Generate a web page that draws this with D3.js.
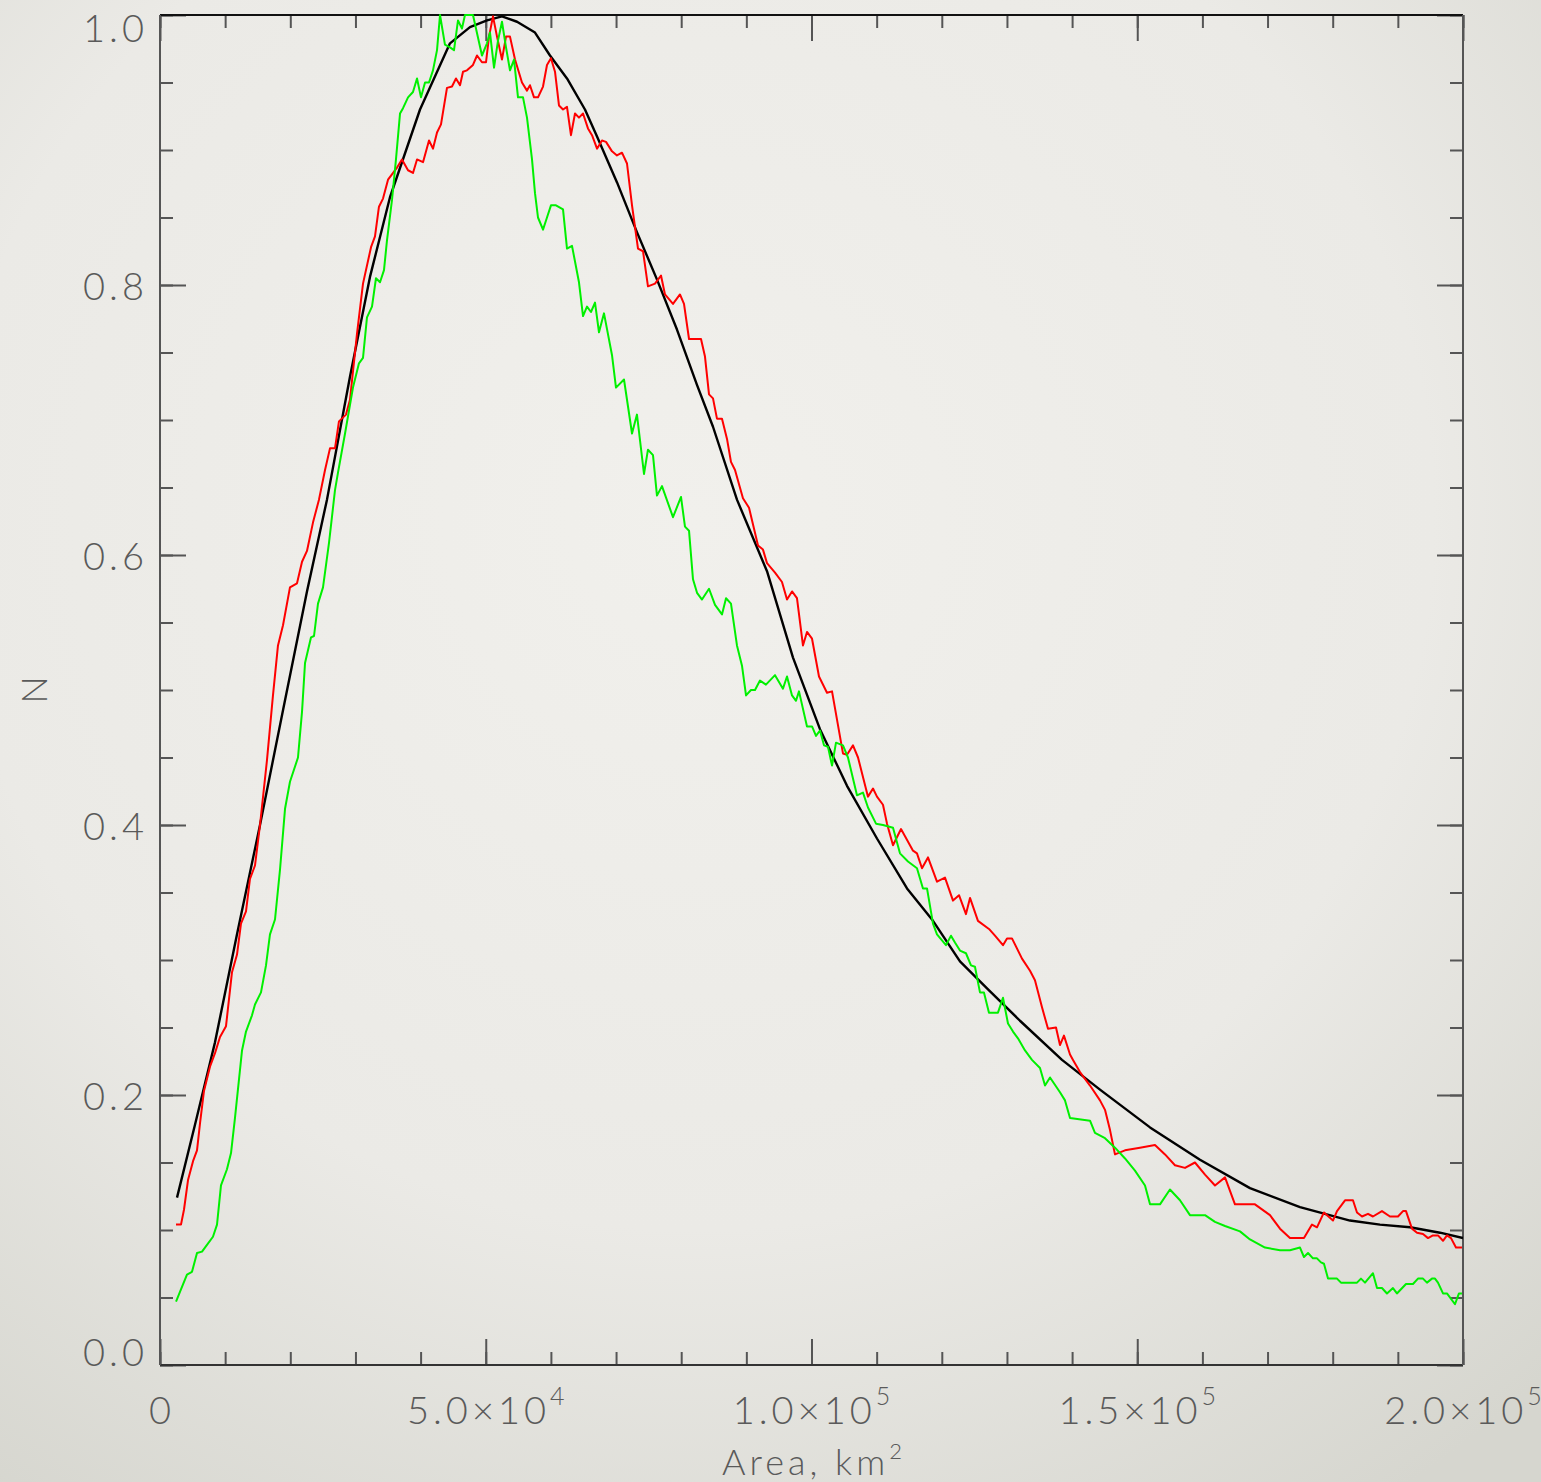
<!DOCTYPE html>
<html>
<head>
<meta charset="utf-8">
<title>Area distribution</title>
<script src="https://cdn.jsdelivr.net/npm/d3@7/dist/d3.min.js"></script>
<style>
    body {
        margin: 0;
        background: #e8e7e2;
    }

    svg text {
        font-family: 'Lato', 'DejaVu Sans', sans-serif;
        font-weight: 300;
        fill: #5a5a5a;
    }
</style>
</head>
<body>
<div id="chart"></div>
<script>
    // area in 10^3 km^2, N normalised
    const fitArea = [2.61, 5.37, 8.44, 11.82, 15.35, 18.88, 22.56, 25.63, 29.16, 32.23, 35.30, 39.91, 44.51, 47.58, 50.19, 52.49, 54.80, 57.56, 59.86, 62.47, 65.23, 67.08, 70.15, 73.22, 76.29, 79.35, 82.42, 84.88, 88.56, 93.17, 97.16, 101.30, 105.45, 110.05, 114.66, 118.65, 122.79, 126.94, 132.00, 138.45, 144.28, 151.96, 159.63, 167.30, 174.98, 182.65, 187.26, 191.86, 196.47, 200.0];
    const fitN = [0.124, 0.178, 0.239, 0.319, 0.400, 0.485, 0.573, 0.641, 0.732, 0.806, 0.865, 0.930, 0.979, 0.991, 0.996, 0.999, 0.995, 0.987, 0.970, 0.953, 0.930, 0.910, 0.876, 0.839, 0.804, 0.767, 0.726, 0.695, 0.641, 0.588, 0.524, 0.471, 0.429, 0.390, 0.353, 0.329, 0.299, 0.279, 0.255, 0.226, 0.204, 0.176, 0.152, 0.131, 0.117, 0.107, 0.104, 0.102, 0.098, 0.094];

    const redArea = [2.46, 3.22, 3.68, 4.30, 5.07, 5.68, 6.14, 6.75, 7.67, 8.44, 9.21, 10.13, 11.05, 11.82, 12.43, 13.20, 13.81, 14.58, 15.35, 16.42, 17.34, 18.11, 18.88, 19.95, 21.03, 21.80, 22.56, 23.48, 24.40, 25.33, 26.09, 26.86, 27.47, 28.55, 29.16, 30.24, 31.16, 32.39, 33.00, 33.61, 34.23, 35.00, 36.38, 37.14, 38.07, 38.83, 39.45, 40.37, 41.29, 41.90, 42.52, 43.13, 44.05, 44.82, 45.43, 46.05, 46.51, 47.12, 48.04, 48.66, 49.42, 50.04, 50.50, 51.11, 51.73, 52.49, 53.11, 53.72, 54.49, 55.56, 56.33, 56.79, 57.41, 58.02, 58.79, 59.40, 60.01, 60.63, 61.24, 61.86, 62.47, 63.08, 63.70, 64.31, 64.93, 65.69, 66.31, 67.08, 67.84, 68.46, 69.38, 70.14, 70.91, 71.68, 72.45, 73.37, 74.14, 74.90, 75.98, 76.90, 77.51, 78.74, 79.81, 80.43, 81.20, 83.04, 83.65, 84.27, 84.88, 85.49, 86.26, 87.03, 87.64, 88.26, 89.48, 90.41, 91.79, 92.55, 93.17, 94.40, 95.47, 96.24, 97.01, 97.77, 98.69, 99.31, 100.08, 101.15, 102.38, 103.15, 104.83, 105.45, 106.37, 107.14, 108.67, 109.44, 110.05, 110.97, 111.59, 112.51, 113.74, 115.58, 116.19, 116.96, 117.88, 119.26, 120.49, 121.72, 122.64, 123.71, 124.33, 125.55, 127.24, 128.16, 129.39, 130.01, 130.77, 132.31, 133.54, 134.30, 135.38, 136.30, 137.53, 138.14, 138.75, 139.68, 140.14, 141.21, 142.75, 144.28, 145.05, 145.82, 146.58, 148.12, 150.42, 152.72, 154.26, 155.79, 157.33, 158.86, 160.40, 161.93, 163.47, 165.00, 168.07, 170.37, 171.91, 173.44, 174.98, 175.59, 176.82, 177.59, 178.66, 180.04, 180.66, 181.89, 183.11, 183.73, 184.50, 185.42, 186.18, 187.56, 188.79, 190.02, 190.79, 191.25, 192.17, 192.94, 193.86, 194.63, 195.39, 196.16, 196.93, 197.54, 198.16, 198.92, 199.38, 199.84];
    const redN = [0.104, 0.104, 0.115, 0.137, 0.151, 0.159, 0.179, 0.203, 0.221, 0.231, 0.243, 0.251, 0.291, 0.304, 0.327, 0.336, 0.360, 0.370, 0.400, 0.448, 0.496, 0.533, 0.548, 0.576, 0.579, 0.595, 0.603, 0.624, 0.641, 0.663, 0.679, 0.679, 0.699, 0.704, 0.715, 0.764, 0.801, 0.828, 0.836, 0.858, 0.864, 0.878, 0.887, 0.893, 0.885, 0.883, 0.893, 0.891, 0.907, 0.901, 0.913, 0.919, 0.946, 0.947, 0.953, 0.948, 0.958, 0.959, 0.963, 0.970, 0.965, 0.965, 0.984, 0.999, 0.984, 0.967, 0.984, 0.984, 0.967, 0.950, 0.944, 0.948, 0.939, 0.939, 0.947, 0.963, 0.968, 0.958, 0.933, 0.930, 0.932, 0.911, 0.927, 0.924, 0.927, 0.916, 0.911, 0.901, 0.907, 0.906, 0.899, 0.896, 0.898, 0.890, 0.859, 0.827, 0.825, 0.799, 0.801, 0.807, 0.793, 0.786, 0.793, 0.786, 0.760, 0.760, 0.747, 0.719, 0.716, 0.701, 0.701, 0.686, 0.669, 0.663, 0.642, 0.635, 0.607, 0.604, 0.594, 0.587, 0.580, 0.567, 0.573, 0.568, 0.533, 0.543, 0.538, 0.510, 0.498, 0.499, 0.453, 0.452, 0.459, 0.450, 0.421, 0.427, 0.421, 0.415, 0.401, 0.385, 0.397, 0.381, 0.379, 0.368, 0.376, 0.358, 0.361, 0.344, 0.348, 0.334, 0.346, 0.329, 0.323, 0.318, 0.311, 0.316, 0.316, 0.301, 0.292, 0.285, 0.265, 0.249, 0.250, 0.237, 0.244, 0.230, 0.226, 0.217, 0.207, 0.196, 0.189, 0.174, 0.156, 0.159, 0.161, 0.163, 0.156, 0.148, 0.146, 0.150, 0.141, 0.133, 0.139, 0.119, 0.119, 0.111, 0.101, 0.094, 0.094, 0.094, 0.104, 0.102, 0.113, 0.107, 0.114, 0.122, 0.122, 0.113, 0.110, 0.112, 0.110, 0.114, 0.110, 0.110, 0.114, 0.114, 0.101, 0.098, 0.097, 0.094, 0.096, 0.096, 0.092, 0.096, 0.094, 0.087, 0.087, 0.087];

    const greenArea = [2.46, 3.22, 4.14, 4.91, 5.68, 6.45, 7.21, 8.13, 8.75, 9.36, 10.28, 10.90, 11.51, 12.59, 13.20, 14.12, 14.58, 15.50, 16.27, 16.88, 17.65, 18.42, 19.19, 19.95, 21.18, 21.80, 22.26, 23.18, 23.64, 24.25, 25.02, 25.94, 26.86, 27.32, 28.40, 29.62, 30.54, 31.16, 31.77, 32.54, 33.15, 33.77, 34.38, 34.84, 35.61, 36.22, 36.84, 37.30, 38.07, 38.83, 39.45, 40.06, 40.68, 41.29, 41.90, 42.52, 42.98, 43.74, 44.51, 45.13, 45.74, 46.35, 46.81, 48.04, 49.42, 50.19, 50.65, 51.27, 51.88, 52.49, 53.11, 53.72, 54.34, 54.95, 55.72, 56.33, 57.10, 57.56, 58.02, 58.79, 59.40, 60.01, 60.78, 61.86, 62.47, 63.24, 64.31, 64.93, 65.54, 66.15, 66.77, 67.38, 68.15, 69.38, 69.99, 71.22, 72.45, 73.21, 74.29, 74.90, 75.67, 76.28, 77.05, 78.74, 79.97, 80.58, 81.20, 81.81, 82.43, 83.19, 84.27, 85.19, 86.26, 86.88, 87.64, 88.56, 89.33, 89.95, 90.71, 91.33, 92.09, 93.01, 94.40, 95.62, 96.24, 97.01, 97.62, 98.08, 99.31, 100.08, 100.69, 101.30, 101.92, 102.53, 103.15, 103.76, 104.83, 105.60, 106.98, 107.90, 108.67, 109.90, 110.97, 112.51, 113.58, 114.81, 116.19, 117.11, 117.73, 118.65, 119.26, 120.64, 121.41, 122.02, 122.79, 123.71, 124.48, 125.09, 125.86, 126.47, 127.24, 128.62, 129.39, 130.16, 130.93, 131.69, 132.77, 133.84, 135.07, 135.84, 136.61, 138.14, 138.91, 139.68, 142.75, 143.51, 145.05, 146.58, 148.12, 149.65, 151.19, 151.96, 153.49, 155.02, 156.56, 158.09, 160.40, 161.93, 163.47, 165.77, 167.30, 169.61, 171.91, 173.44, 174.98, 175.59, 176.21, 176.97, 177.59, 178.20, 178.66, 179.28, 180.66, 181.27, 183.73, 184.34, 184.96, 186.18, 186.80, 187.56, 188.33, 189.25, 189.86, 191.25, 192.32, 193.09, 193.86, 194.47, 195.24, 195.70, 196.16, 196.93, 197.54, 198.77, 199.38, 199.84];
    const greenN = [0.047, 0.056, 0.067, 0.069, 0.083, 0.084, 0.089, 0.095, 0.104, 0.133, 0.145, 0.157, 0.183, 0.233, 0.247, 0.259, 0.267, 0.276, 0.296, 0.319, 0.330, 0.367, 0.412, 0.432, 0.450, 0.484, 0.520, 0.539, 0.540, 0.564, 0.576, 0.609, 0.648, 0.661, 0.690, 0.724, 0.742, 0.746, 0.776, 0.784, 0.805, 0.802, 0.811, 0.833, 0.863, 0.893, 0.927, 0.931, 0.939, 0.943, 0.953, 0.939, 0.950, 0.950, 0.959, 0.974, 1.000, 0.978, 0.976, 0.974, 0.996, 0.990, 1.000, 1.000, 0.970, 0.979, 0.987, 0.961, 0.981, 0.995, 0.976, 0.959, 0.967, 0.939, 0.939, 0.924, 0.893, 0.868, 0.850, 0.841, 0.850, 0.859, 0.859, 0.856, 0.827, 0.829, 0.802, 0.777, 0.784, 0.780, 0.787, 0.765, 0.779, 0.748, 0.724, 0.730, 0.690, 0.704, 0.660, 0.678, 0.674, 0.644, 0.651, 0.628, 0.643, 0.621, 0.618, 0.582, 0.572, 0.567, 0.575, 0.563, 0.556, 0.568, 0.564, 0.533, 0.518, 0.496, 0.500, 0.500, 0.507, 0.504, 0.511, 0.501, 0.510, 0.496, 0.492, 0.499, 0.473, 0.473, 0.466, 0.470, 0.459, 0.458, 0.444, 0.461, 0.459, 0.450, 0.422, 0.424, 0.413, 0.401, 0.400, 0.398, 0.379, 0.373, 0.368, 0.353, 0.353, 0.327, 0.319, 0.311, 0.318, 0.313, 0.307, 0.305, 0.296, 0.295, 0.276, 0.276, 0.261, 0.261, 0.272, 0.253, 0.247, 0.242, 0.233, 0.226, 0.220, 0.207, 0.213, 0.202, 0.196, 0.183, 0.181, 0.172, 0.168, 0.161, 0.153, 0.144, 0.133, 0.119, 0.119, 0.130, 0.122, 0.111, 0.111, 0.106, 0.103, 0.099, 0.093, 0.087, 0.085, 0.085, 0.087, 0.080, 0.083, 0.079, 0.079, 0.076, 0.075, 0.064, 0.064, 0.061, 0.061, 0.064, 0.061, 0.068, 0.057, 0.057, 0.053, 0.057, 0.053, 0.060, 0.060, 0.064, 0.064, 0.061, 0.064, 0.064, 0.061, 0.053, 0.053, 0.045, 0.053, 0.053];

    const yTicks = [0, 0.2, 0.4, 0.6, 0.8, 1.0];
    const yTickLabels = ['0.0', '0.2', '0.4', '0.6', '0.8', '1.0'];
    const xTicks = [0, 50000, 100000, 150000, 200000];
    const xTickLabels = [['0', ''], ['5.0×10', '4'], ['1.0×10', '5'], ['1.5×10', '5'], ['2.0×10', '5']];

    const width = 1541, height = 1482;
    const plotLeft = 160, plotRight = 1463, plotTop = 15, plotBottom = 1365;

    const svg = d3.select('#chart')
        .append('svg')
        .attr('width', width)
        .attr('height', height);

    // paper-like background with a soft vignette
    const defs = svg.append('defs');
    const grad = defs.append('radialGradient')
        .attr('id', 'bg')
        .attr('cx', '45%').attr('cy', '35%').attr('r', '80%');
    grad.append('stop').attr('offset', '0%').attr('stop-color', '#f1f0ec');
    grad.append('stop').attr('offset', '60%').attr('stop-color', '#ebeae6');
    grad.append('stop').attr('offset', '100%').attr('stop-color', '#d6d6cf');
    svg.append('rect').attr('width', width).attr('height', height).attr('fill', 'url(#bg)');

    defs.append('clipPath').attr('id', 'plotclip')
        .append('rect')
        .attr('x', plotLeft).attr('y', plotTop - 1)
        .attr('width', plotRight - plotLeft).attr('height', plotBottom - plotTop + 1);

    const x = d3.scaleLinear().domain([0, 200000]).range([plotLeft, plotRight]);
    const y = d3.scaleLinear().domain([0, 1]).range([plotBottom, plotTop]);

    const minorX = d3.range(0, 200001, 10000);
    const minorY = d3.range(0, 1.0001, 0.05);

    function styleAxis(g) {
        g.select('.domain').remove();
        g.selectAll('.tick line').attr('stroke', '#555').attr('stroke-width', 2);
        g.selectAll('.tick text').remove();
    }

    // minor then major ticks on all four sides, pointing inward
    [[13, minorX], [26, xTicks]].forEach(([len, vals]) => {
        svg.append('g').attr('transform', `translate(0,${plotBottom})`)
            .call(d3.axisBottom(x).tickValues(vals).tickSize(-len)).call(styleAxis);
        svg.append('g').attr('transform', `translate(0,${plotTop})`)
            .call(d3.axisTop(x).tickValues(vals).tickSize(-len)).call(styleAxis);
    });
    [[13, minorY], [26, yTicks]].forEach(([len, vals]) => {
        svg.append('g').attr('transform', `translate(${plotLeft},0)`)
            .call(d3.axisLeft(y).tickValues(vals).tickSize(-len)).call(styleAxis);
        svg.append('g').attr('transform', `translate(${plotRight},0)`)
            .call(d3.axisRight(y).tickValues(vals).tickSize(-len)).call(styleAxis);
    });

    // frame
    svg.append('line').attr('x1', plotLeft).attr('x2', plotRight).attr('y1', plotTop).attr('y2', plotTop)
        .attr('stroke', '#111').attr('stroke-width', 2);
    svg.append('line').attr('x1', plotLeft).attr('x2', plotRight).attr('y1', plotBottom).attr('y2', plotBottom)
        .attr('stroke', '#333').attr('stroke-width', 2);
    svg.append('line').attr('x1', plotLeft).attr('x2', plotLeft).attr('y1', plotTop).attr('y2', plotBottom)
        .attr('stroke', '#555').attr('stroke-width', 2);
    svg.append('line').attr('x1', plotRight).attr('x2', plotRight).attr('y1', plotTop).attr('y2', plotBottom)
        .attr('stroke', '#555').attr('stroke-width', 2);

    // y tick labels
    svg.selectAll('text.ylab')
        .data(yTicks)
        .join('text')
        .attr('class', 'ylab')
        .attr('x', 148)
        .attr('y', (d, i) => y(d) + (d === 1 ? 27 : d === 0 ? 1 : 15))
        .attr('text-anchor', 'end')
        .style('font-size', '38px')
        .style('letter-spacing', '4px')
        .text((d, i) => yTickLabels[i]);

    // x tick labels with superscript exponents
    const xl = svg.selectAll('text.xlab')
        .data(xTicks)
        .join('text')
        .attr('class', 'xlab')
        .attr('x', d => x(d) + 2)
        .attr('y', 1424)
        .attr('text-anchor', 'middle')
        .style('font-size', '38px')
        .style('letter-spacing', '4px');
    xl.append('tspan').text((d, i) => xTickLabels[i][0]);
    xl.append('tspan')
        .attr('dy', -19)
        .style('font-size', '25px')
        .text((d, i) => xTickLabels[i][1]);

    // axis titles
    const xt = svg.append('text')
        .attr('x', 814).attr('y', 1475)
        .attr('text-anchor', 'middle')
        .style('font-size', '36px')
        .style('letter-spacing', '4px');
    xt.append('tspan').text('Area,  km');
    xt.append('tspan').attr('dy', -16).style('font-size', '22px').text('2');

    svg.append('text')
        .attr('transform', 'translate(47,690) rotate(-90)')
        .attr('text-anchor', 'middle')
        .style('font-size', '36px')
        .text('N');

    // curves
    const line = d3.line()
        .x(d => x(d[0] * 1000))
        .y(d => y(d[1]));

    const series = [
        { area: fitArea, n: fitN, color: '#000000', w: 2.4 },
        { area: redArea, n: redN, color: '#ff0000', w: 2 },
        { area: greenArea, n: greenN, color: '#00f000', w: 2 }
    ];

    const plot = svg.append('g').attr('clip-path', 'url(#plotclip)');
    series.forEach(s => {
        plot.append('path')
            .datum(d3.zip(s.area, s.n))
            .attr('d', line)
            .attr('fill', 'none')
            .attr('stroke', s.color)
            .attr('stroke-width', s.w)
            .attr('stroke-linejoin', 'round');
    });
</script>
</body>
</html>
